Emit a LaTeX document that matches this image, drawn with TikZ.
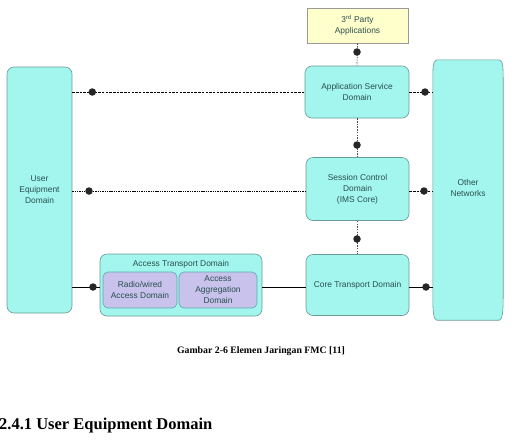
\documentclass[tikz,border=0pt]{standalone}
\usepackage{fontspec}
\setmainfont{Liberation Serif}
\setsansfont{Liberation Sans}
\usetikzlibrary{calc}
\definecolor{domfill}{HTML}{A2F6EE}
\definecolor{domline}{HTML}{6A9A96}
\definecolor{domtext}{HTML}{2A4E4E}
\definecolor{appfill}{HTML}{FFFFCC}
\definecolor{subfill}{HTML}{C8C2EC}
\newcommand{\domfont}{\sffamily\fontsize{8.4}{11}\selectfont}
\tikzset{
  dombox/.style={draw=domline, fill=domfill, rounded corners=7pt, line width=0.6pt,
    align=center, inner sep=0pt, font=\domfont, text=domtext},
  appbox/.style={draw=gray!80, fill=appfill, line width=0.6pt, align=center, inner sep=0pt,
    font=\domfont, text=domtext},
  subdom/.style={draw=domline!80!cyan, fill=subfill, rounded corners=5pt, line width=0.6pt,
    align=center, inner sep=0pt, font=\domfont, text=domtext},
  junction/.style={circle, fill=black!85, inner sep=0pt, minimum size=7.5pt},
  signal/.style={line width=0.7pt, dash pattern=on 2.5pt off 1.2pt},
  session/.style={line width=0.7pt, dash pattern=on 1.4pt off 0.9pt},
  vlink/.style={line width=0.7pt, dash pattern=on 1.5pt off 1.2pt, draw=black!70},
  bearer/.style={line width=0.7pt},
}
\begin{document}
\begin{tikzpicture}[x=1pt, y=-1pt]
\useasboundingbox (0,0) rectangle (519,445);

% domains
\node[dombox, minimum width=65pt, minimum height=246pt] (ue) at (39.5,190) {User\\Equipment\\Domain};
\node[appbox, minimum width=101pt, minimum height=35pt] (tpa) at (357.5,25.5) {3\textsuperscript{rd} Party\\Applications};
\node[dombox, minimum width=104pt, minimum height=52pt] (asd) at (357,92) {Application Service\\Domain};
\node[dombox, minimum width=103pt, minimum height=63pt] (scd) at (357.5,189) {Session Control\\Domain\\(IMS Core)};
\node[dombox, minimum width=103pt, minimum height=61pt] (ctd) at (357.5,285) {Core Transport Domain};

% other networks: tall box with flared corners
\node[minimum width=70pt, minimum height=260pt, inner sep=0pt] (on) at (468,190) {};
\fill[domfill, draw=domline, line width=0.6pt]
  ($(on.north west)+(4,0)$) -- ($(on.north east)+(-4,0)$)
  .. controls ($(on.north east)+(0,1)$) and ($(on.north east)+(0,8)$) .. ($(on.north east)+(0,22)$)
  -- ($(on.south east)+(0,-22)$)
  .. controls ($(on.south east)+(0,-8)$) and ($(on.south east)+(-1,0)$) .. ($(on.south east)+(-4,0)$)
  -- ($(on.south west)+(4,0)$)
  .. controls ($(on.south west)+(1,0)$) and ($(on.south west)+(0,-8)$) .. ($(on.south west)+(0,-22)$)
  -- ($(on.north west)+(0,22)$)
  .. controls ($(on.north west)+(0,8)$) and ($(on.north west)+(0,1)$) .. cycle;
\node[align=center, font=\domfont, text=domtext] (onl) at (468,188) {Other\\Networks};

% access transport domain with its two parts
\node[dombox, minimum width=162pt, minimum height=62pt] (atd) at (181,285) {};
\node[font=\domfont, text=domtext] (atdl) at (181,264) {Access Transport Domain};
\node[subdom, minimum width=74pt, minimum height=36pt] (rad) at (140,290) {Radio/wired\\Access Domain};
\node[subdom, minimum width=78pt, minimum height=36pt] (agg) at (218,290) {Access\\Aggregation\\Domain};

% horizontal links
\draw[signal] (ue.east |- asd.west) -- (asd.west);
\node[junction] at ($(ue.east |- asd.west)+(20,0)$) {};
\draw[session] (ue.east |- 0,191) -- (scd.west |- 0,191);
\node[junction] at (89,191) {};
\draw[bearer] (ue.east |- 0,287) -- (atd.west |- 0,287);
\node[junction] at (93,287) {};
\draw[bearer] (atd.east |- 0,287) -- (ctd.west |- 0,287);

\draw[signal] (asd.east) -- (on.west |- asd.east);
\node[junction] at (425,92) {};
\draw[signal] (scd.east |- 0,191) -- (on.west |- 0,191);
\node[junction] at (424,191) {};
\draw[bearer] (ctd.east |- 0,287) -- (on.west |- 0,287);
\node[junction] at (426,287) {};

% vertical links
\draw[vlink] (tpa.south) -- (asd.north);
\node[junction] at (357,52) {};
\draw[vlink] (asd.south) -- (scd.north -| asd.south);
\node[junction] at (357,145) {};
\draw[vlink] (scd.south -| asd.south) -- (ctd.north -| asd.south);
\node[junction] at (357,239) {};

% caption and heading
\node[font=\bfseries\fontsize{9.8}{11}\selectfont] (cap) at (261,351) {Gambar 2-6 Elemen Jaringan FMC [11]};
\node[font=\bfseries\fontsize{16.5}{18}\selectfont, anchor=west, inner sep=0pt] (sec) at (-1,426) {2.4.1 User Equipment Domain};
\end{tikzpicture}
\end{document}
